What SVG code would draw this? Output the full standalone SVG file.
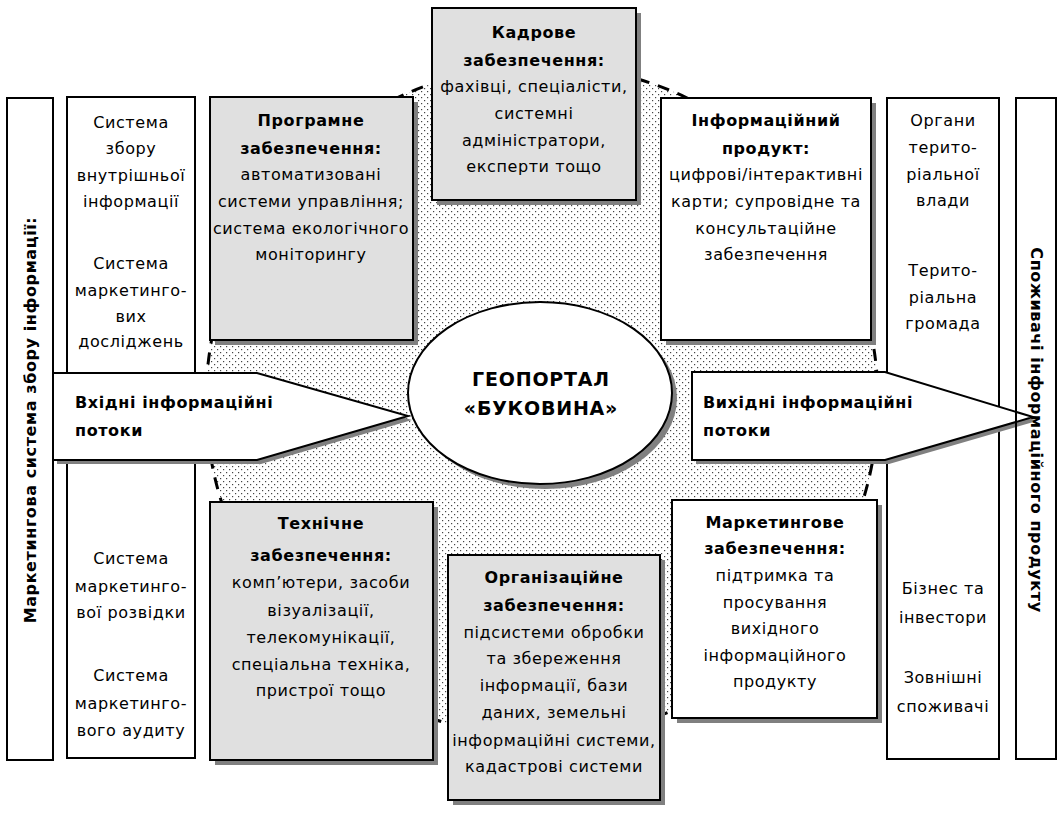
<svg xmlns="http://www.w3.org/2000/svg" width="1061" height="813" viewBox="0 0 1061 813">
<defs>
<pattern id="dots" width="6" height="6" patternUnits="userSpaceOnUse">
<rect x="1" y="1" width="1.2" height="1.2" fill="#444"/>
<rect x="4" y="4" width="1.2" height="1.2" fill="#444"/>
</pattern>
</defs>
<style>
.t{font-family:"DejaVu Sans","Liberation Sans",sans-serif;font-size:16px;letter-spacing:0.6px;fill:#000;text-anchor:middle}
.b{font-weight:bold}
.l{text-anchor:start}
.box{stroke:#000;stroke-width:2}
.gray{fill:#e0e0e0}
.white{fill:#fff}
.sh{fill:#808080}
</style>
<rect width="1061" height="813" fill="#fff"/>
<g id="background">
<circle cx="542" cy="401" r="336" fill="url(#dots)" stroke="#000" stroke-width="3" stroke-dasharray="12 9"/>
</g>
<g id="left-outer">
<rect class="box white" x="7" y="98" width="46" height="662"/>
<text class="t b" transform="translate(36,420) rotate(-90)">Маркетингова система збору інформації:</text>
</g>
<g id="left-column">
<rect class="box white" x="67" y="97" width="128" height="661"/>
<text class="t"><tspan x="131" y="128">Система</tspan><tspan x="131" y="154">збору</tspan><tspan x="131" y="181">внутрішньої</tspan><tspan x="131" y="207">інформації</tspan><tspan x="131" y="269">Система</tspan><tspan x="131" y="296">маркетинго-</tspan><tspan x="131" y="322">вих</tspan><tspan x="131" y="347">досліджень</tspan><tspan x="131" y="564">Система</tspan><tspan x="131" y="592">маркетинго-</tspan><tspan x="131" y="618">вої розвідки</tspan><tspan x="131" y="681">Система</tspan><tspan x="131" y="709">маркетинго-</tspan><tspan x="131" y="736">вого аудиту</tspan></text>
</g>
<g id="right-column">
<rect class="box white" x="887" y="98" width="112" height="661"/>
<text class="t"><tspan x="943" y="126">Органи</tspan><tspan x="943" y="153">терито-</tspan><tspan x="943" y="180">ріальної</tspan><tspan x="943" y="206">влади</tspan><tspan x="943" y="276">Терито-</tspan><tspan x="943" y="303">ріальна</tspan><tspan x="943" y="329">громада</tspan><tspan x="943" y="594">Бізнес та</tspan><tspan x="943" y="623">інвестори</tspan><tspan x="943" y="683">Зовнішні</tspan><tspan x="943" y="712">споживачі</tspan></text>
</g>
<g id="programne">
<rect class="sh" x="215" y="102" width="203" height="243"/>
<rect class="box gray" x="210" y="97" width="203" height="243"/>
<text class="t"><tspan class="b" x="311" y="126">Програмне</tspan><tspan class="b" x="311" y="154">забезпечення:</tspan><tspan x="311" y="180">автоматизовані</tspan><tspan x="311" y="207">системи управління;</tspan><tspan x="311" y="234">система екологічного</tspan><tspan x="311" y="260">моніторингу</tspan></text>
</g>
<g id="kadrove">
<rect class="sh" x="437" y="13" width="204" height="192"/>
<rect class="box gray" x="432" y="8" width="204" height="192"/>
<text class="t"><tspan class="b" x="534" y="38">Кадрове</tspan><tspan class="b" x="534" y="66">забезпечення:</tspan><tspan x="534" y="92">фахівці, спеціалісти,</tspan><tspan x="534" y="119">системні</tspan><tspan x="534" y="146">адміністратори,</tspan><tspan x="534" y="172">експерти тощо</tspan></text>
</g>
<g id="info-product">
<rect class="sh" x="666" y="103" width="210" height="242"/>
<rect class="box white" x="661" y="98" width="210" height="242"/>
<text class="t"><tspan class="b" x="766" y="126">Інформаційний</tspan><tspan class="b" x="766" y="154">продукт:</tspan><tspan x="766" y="180">цифрові/інтерактивні</tspan><tspan x="766" y="207">карти; супровідне та</tspan><tspan x="766" y="234">консультаційне</tspan><tspan x="766" y="260">забезпечення</tspan></text>
</g>
<g id="technical">
<rect class="sh" x="215" y="507" width="223" height="258"/>
<rect class="box gray" x="210" y="502" width="223" height="258"/>
<text class="t"><tspan class="b" x="321" y="529">Технічне</tspan><tspan class="b" x="321" y="561">забезпечення:</tspan><tspan x="321" y="588">комп’ютери, засоби</tspan><tspan x="321" y="616">візуалізації,</tspan><tspan x="321" y="643">телекомунікації,</tspan><tspan x="321" y="670">спеціальна техніка,</tspan><tspan x="321" y="696">пристрої тощо</tspan></text>
</g>
<g id="organizational">
<rect class="sh" x="453" y="560" width="212" height="245"/>
<rect class="box gray" x="448" y="555" width="212" height="245"/>
<text class="t"><tspan class="b" x="554" y="583">Організаційне</tspan><tspan class="b" x="554" y="611">забезпечення:</tspan><tspan x="554" y="638">підсистеми обробки</tspan><tspan x="554" y="664">та збереження</tspan><tspan x="554" y="691">інформації, бази</tspan><tspan x="554" y="718">даних, земельні</tspan><tspan x="554" y="746">інформаційні системи,</tspan><tspan x="554" y="772">кадастрові системи</tspan></text>
</g>
<g id="marketing">
<rect class="sh" x="677" y="505" width="205" height="218"/>
<rect class="box white" x="672" y="500" width="205" height="218"/>
<text class="t"><tspan class="b" x="775" y="528">Маркетингове</tspan><tspan class="b" x="775" y="554">забезпечення:</tspan><tspan x="775" y="581">підтримка та</tspan><tspan x="775" y="608">просування</tspan><tspan x="775" y="634">вихідного</tspan><tspan x="775" y="661">інформаційного</tspan><tspan x="775" y="687">продукту</tspan></text>
</g>
<g id="geoportal">
<ellipse class="sh" cx="545" cy="398" rx="132" ry="91"/>
<ellipse cx="540" cy="393" rx="132" ry="91" fill="#fff" stroke="#000" stroke-width="2"/>
<text class="t b" style="font-size:19px;letter-spacing:0.8px"><tspan x="541" y="386">ГЕОПОРТАЛ</tspan><tspan x="541" y="415">«БУКОВИНА»</tspan></text>
</g>
<g id="connectors">
<g id="input-arrow">
<polygon class="sh" points="57,377 261,377 412,420 261,464 57,464"/>
<polygon points="53,373 257,373 408,416 257,460 53,460" fill="#fff" stroke="#000" stroke-width="2"/>
<text class="t b l"><tspan x="75" y="408">Вхідні інформаційні</tspan><tspan x="75" y="436">потоки</tspan></text>
</g>
<g id="output-arrow">
<polygon class="sh" points="696,376 889,376 1037,421 889,464 696,464"/>
<polygon points="692,372 885,372 1033,417 885,460 692,460" fill="#fff" stroke="#000" stroke-width="2"/>
<text class="t b l"><tspan x="703" y="408">Вихідні інформаційні</tspan><tspan x="703" y="436">потоки</tspan></text>
</g>
</g>
<g id="right-outer">
<rect x="1016" y="98" width="40" height="661" fill="none" stroke="#000" stroke-width="2"/>
<text class="t b" transform="translate(1031,430) rotate(90)">Споживачі інформаційного продукту</text>
</g>
</svg>
